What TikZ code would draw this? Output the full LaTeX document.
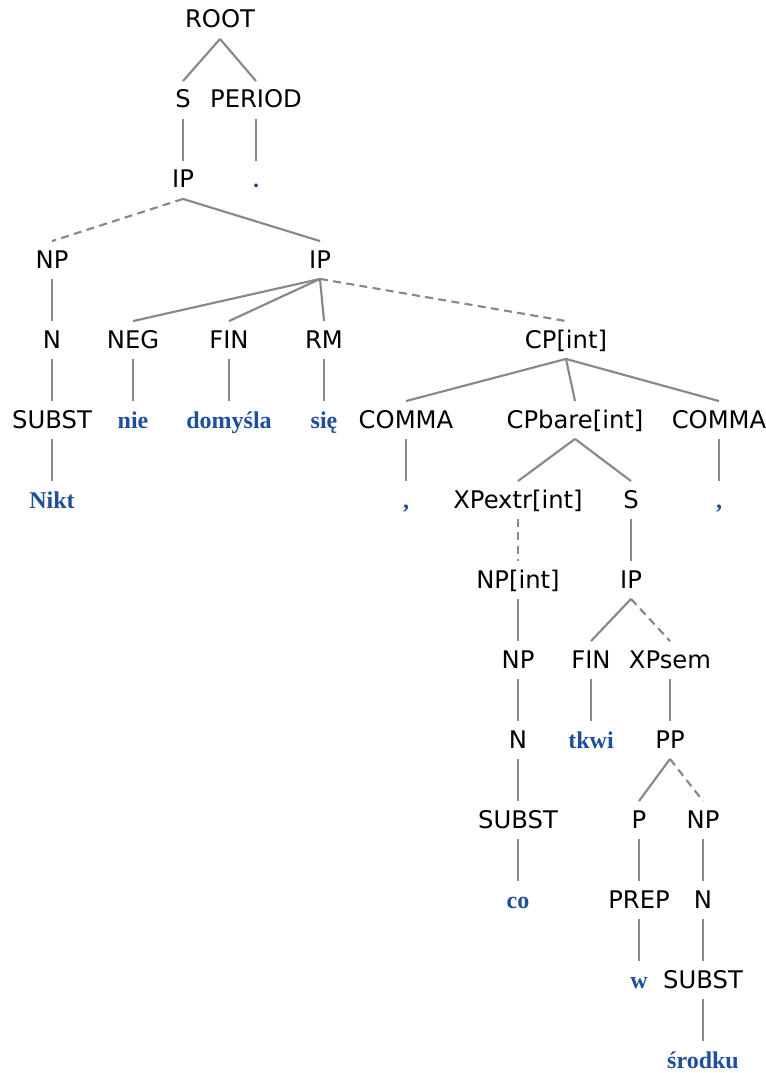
\documentclass[tikz,border=0pt]{standalone}
\usepackage{fontspec}
\newfontfamily\catfont{DejaVu Sans}
\newfontfamily\wordfont{Liberation Serif}
\usepackage{xcolor}
\definecolor{WordBlue}{HTML}{1F4E9C}
\definecolor{EdgeGray}{HTML}{888888}
\usepackage{tikz}
\usetikzlibrary{positioning}
\tikzset{
  cat/.style={
    inner sep=5pt, text height=15pt, text depth=3pt,
    font=\catfont\fontsize{18.2}{20}\selectfont, text=black
  },
  word/.style={
    cat, font=\wordfont\bfseries\fontsize{18}{20}\selectfont, text=WordBlue
  },
  edge/.style={draw=EdgeGray, line width=1.6pt},
  dedge/.style={edge, dash pattern=on 6pt off 4pt},
}
\begin{document}
\begin{tikzpicture}[x=0.75pt, y=-0.75pt]
\useasboundingbox (0,0) rectangle (766,1073);

% Top of the tree
\node[cat] at (220,20) (root) {ROOT};
\node[cat] at (183,100) (s) {S};
\node[cat] at (256,100) (period) {PERIOD};
\node[cat] at (183,180) (ipTop) {IP};
\node[word] at (256,180) (dot) {.};

% Subject and main IP
\node[cat] at (52,260) (npSubj) {NP};
\node[cat] at (320,260) (ipMain) {IP};
\node[cat] at (52,340) (nSubj) {N};
\node[cat] at (133,340) (neg) {NEG};
\node[cat] at (229,340) (fin) {FIN};
\node[cat] at (324,340) (rm) {RM};
\node[cat] at (566,340) (cpInt) {CP[int]};
\node[cat] at (52,420) (substSubj) {SUBST};
\node[word] at (133,420) (nie) {nie};
\node[word] at (229,420) (domysla) {domyśla};
\node[word] at (324,420) (sie) {się};
\node[cat] at (406,420) (commaL) {COMMA};
\node[cat] at (575,420) (cpBare) {CPbare[int]};
\node[cat] at (719,420) (commaR) {COMMA};
\node[word] at (52,500) (nikt) {Nikt};
\node[word] at (406,500) (commaLw) {,};
\node[word] at (719,500) (commaRw) {,};

% Embedded clause
\node[cat] at (518,500) (xpExtr) {XPextr[int]};
\node[cat] at (631,500) (sEmb) {S};
\node[cat] at (518,580) (npInt) {NP[int]};
\node[cat] at (631,580) (ipEmb) {IP};
\node[cat] at (518,660) (npObj) {NP};
\node[cat] at (591,660) (finEmb) {FIN};
\node[cat] at (670,660) (xpSem) {XPsem};
\node[cat] at (518,740) (nObj) {N};
\node[word] at (591,740) (tkwi) {tkwi};
\node[cat] at (670,740) (pp) {PP};
\node[cat] at (518,820) (substObj) {SUBST};
\node[cat] at (639,820) (prepP) {P};
\node[cat] at (703,820) (npPP) {NP};
\node[word] at (518,900) (co) {co};
\node[cat] at (639,900) (prep) {PREP};
\node[cat] at (703,900) (nPP) {N};
\node[word] at (639,980) (w) {w};
\node[cat] at (703,980) (substPP) {SUBST};
\node[word] at (703,1060) (srodku) {środku};

% Edges
\draw[edge] (root.south) -- (s.north);
\draw[edge] (root.south) -- (period.north);
\draw[edge] (s.south) -- (ipTop.north);
\draw[edge] (period.south) -- (dot.north);
\draw[dedge] (ipTop.south) -- (npSubj.north);
\draw[edge] (ipTop.south) -- (ipMain.north);
\draw[edge] (npSubj.south) -- (nSubj.north);
\draw[edge] (nSubj.south) -- (substSubj.north);
\draw[edge] (substSubj.south) -- (nikt.north);
\draw[edge] (ipMain.south) -- (neg.north);
\draw[edge] (ipMain.south) -- (fin.north);
\draw[edge] (ipMain.south) -- (rm.north);
\draw[dedge] (ipMain.south) -- (cpInt.north);
\draw[edge] (neg.south) -- (nie.north);
\draw[edge] (fin.south) -- (domysla.north);
\draw[edge] (rm.south) -- (sie.north);
\draw[edge] (cpInt.south) -- (commaL.north);
\draw[edge] (cpInt.south) -- (cpBare.north);
\draw[edge] (cpInt.south) -- (commaR.north);
\draw[edge] (commaL.south) -- (commaLw.north);
\draw[edge] (commaR.south) -- (commaRw.north);
\draw[edge] (cpBare.south) -- (xpExtr.north);
\draw[edge] (cpBare.south) -- (sEmb.north);
\draw[dedge] (xpExtr.south) -- (npInt.north);
\draw[edge] (npInt.south) -- (npObj.north);
\draw[edge] (npObj.south) -- (nObj.north);
\draw[edge] (nObj.south) -- (substObj.north);
\draw[edge] (substObj.south) -- (co.north);
\draw[edge] (sEmb.south) -- (ipEmb.north);
\draw[edge] (ipEmb.south) -- (finEmb.north);
\draw[dedge] (ipEmb.south) -- (xpSem.north);
\draw[edge] (finEmb.south) -- (tkwi.north);
\draw[edge] (xpSem.south) -- (pp.north);
\draw[edge] (pp.south) -- (prepP.north);
\draw[dedge] (pp.south) -- (npPP.north);
\draw[edge] (prepP.south) -- (prep.north);
\draw[edge] (prep.south) -- (w.north);
\draw[edge] (npPP.south) -- (nPP.north);
\draw[edge] (nPP.south) -- (substPP.north);
\draw[edge] (substPP.south) -- (srodku.north);

\end{tikzpicture}
\end{document}
